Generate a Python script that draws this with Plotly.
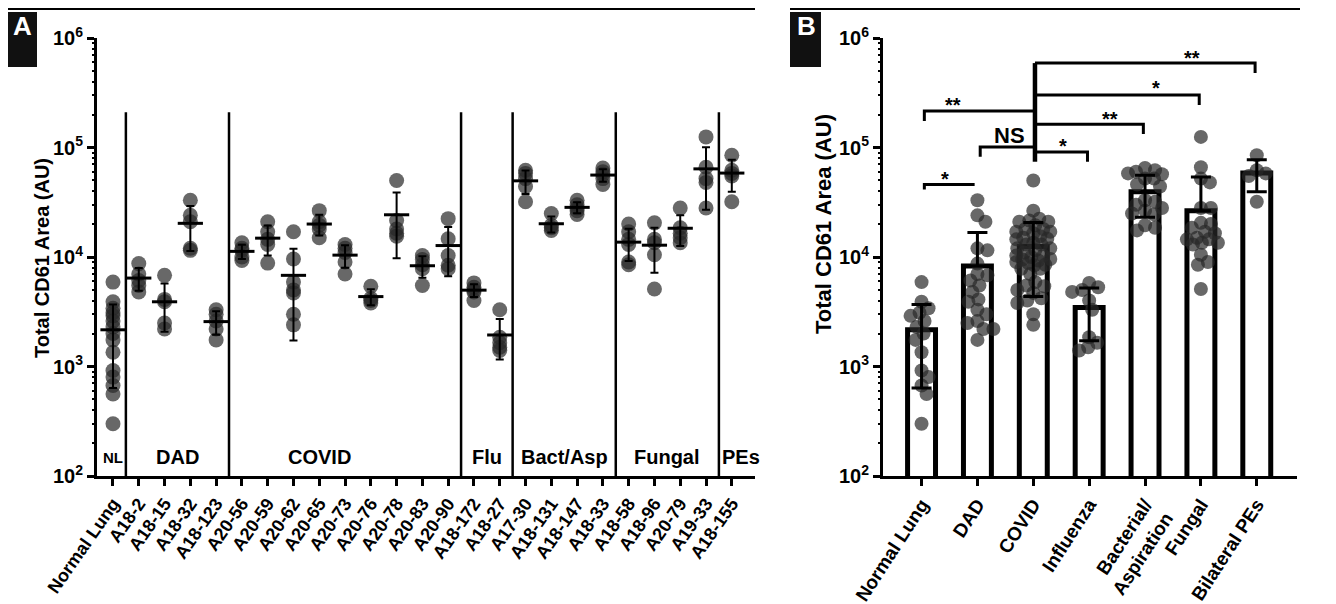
import numpy as np
import plotly.graph_objects as go

# ---------------- data ----------------
samples = ["Normal Lung", "A18-2", "A18-15", "A18-32", "A18-123",
           "A20-56", "A20-59", "A20-62", "A20-65", "A20-73", "A20-76", "A20-78", "A20-83", "A20-90",
           "A18-172", "A18-27",
           "A17-30", "A18-131", "A18-147", "A18-33",
           "A18-58", "A18-96", "A20-79", "A19-33",
           "A18-155"]

nl = [5900, 3900, 3400, 3100, 2900, 2600, 2300, 2000, 1750, 1350, 920, 800, 670, 560, 300]
a18_2 = [8700, 7000, 6100, 5500, 4800]
a18_15 = [6800, 4100, 3900, 2500, 2200]
a18_32 = [33000, 24000, 21000, 12000, 11500]
a18_123 = [3300, 3000, 2600, 2200, 1750]
a20_56 = [13500, 12000, 11500, 10000, 9300]
a20_59 = [21000, 17000, 14500, 13000, 8800]
a20_62 = [17000, 9600, 5900, 5000, 4700, 3000, 2400]
a20_65 = [26500, 21000, 19500, 18000, 15000]
a20_73 = [13000, 12000, 11000, 9000, 7000]
a20_76 = [5400, 4200, 4000, 3800]
a20_78 = [50000, 21500, 18000, 16500, 15500]
a20_83 = [10300, 9500, 8500, 7800, 5500]
a20_90 = [22400, 14700, 10300, 8400, 7800]
a18_172 = [5800, 5300, 5000, 4800, 4000]
a18_27 = [3300, 1850, 1650, 1500, 1400]
a17_30 = [62000, 58000, 52000, 44000, 32000]
a18_131 = [25000, 19500, 18500, 17500]
a18_147 = [33000, 30000, 28000, 26500, 24500]
a18_33 = [65000, 60000, 57000, 52000, 46000]
a18_58 = [20000, 17000, 14500, 13000, 9000, 8500]
a18_96 = [20500, 14500, 13500, 10500, 5100]
a20_79 = [28000, 18500, 16500, 15000, 13500]
a19_33 = [125000, 66000, 52000, 48000, 28000]
a18_155 = [85000, 62000, 58000, 55000, 32000]

sample_values = [nl, a18_2, a18_15, a18_32, a18_123,
                 a20_56, a20_59, a20_62, a20_65, a20_73, a20_76, a20_78, a20_83, a20_90,
                 a18_172, a18_27,
                 a17_30, a18_131, a18_147, a18_33,
                 a18_58, a18_96, a20_79, a19_33,
                 a18_155]

group_short = ["NL", "DAD", "COVID", "Flu", "Bact/Asp", "Fungal", "PEs"]
group_long = ["Normal Lung", "DAD", "COVID", "Influenza", "Bacterial/<br>Aspiration", "Fungal", "Bilateral PEs"]
group_sizes = [1, 4, 9, 2, 4, 4, 1]

# significance comparisons in panel B (group index pairs and labels)
sig_pairs = [(0, 1), (0, 2), (1, 2), (2, 3), (2, 4), (2, 5), (2, 6)]
sig_labels = ["*", "**", "NS", "*", "**", "*", "**"]
sig_levels = [46000, 215000, 101000, 91200, 163000, 301000, 590000]

# ---------------- layout helpers ----------------
W, H = 1336, 604
OFF = 8  # page body margin of the rendered html
FONT = "Liberation Sans, Arial, Helvetica, sans-serif"


def px(p):
    return (p - OFF) / W


def py(p):
    return 1 - (p - OFF) / H


A_X = (97, 755)
B_X = (883, 1297)
Y_PX = (38, 476)
A_RANGE = [-0.62, 24.9]
B_RANGE = [-0.69, 6.72]

DOT = dict(size=15, color="rgba(40,40,40,0.70)", line=dict(width=0))

fig = go.Figure()

# ---------------- Panel A ----------------
xa, ya = [], []
for i, vals in enumerate(sample_values):
    xa += [i] * len(vals)
    ya += list(vals)
fig.add_trace(go.Scatter(x=xa, y=ya, mode="markers", marker=DOT,
                         xaxis="x", yaxis="y", hoverinfo="skip"))

means_a = np.array([np.mean(v) for v in sample_values])
sds_a = np.array([np.std(v, ddof=1) for v in sample_values])
minus_a = np.where(means_a - sds_a > 0, sds_a, 0)
fig.add_trace(go.Scatter(
    x=list(range(len(samples))), y=means_a, mode="markers",
    marker=dict(symbol="line-ew", size=18, color="black", line=dict(width=3, color="black")),
    error_y=dict(type="data", array=sds_a, arrayminus=minus_a, thickness=2, width=4, color="black"),
    xaxis="x", yaxis="y", hoverinfo="skip"))

# group separators
bounds = np.cumsum(group_sizes)[:-1] - 0.5
sep_x, sep_y = [], []
for b in bounds:
    sep_x += [b, b, None]
    sep_y += [2.1e5, 1e2, None]
fig.add_trace(go.Scatter(x=sep_x, y=sep_y, mode="lines", line=dict(color="black", width=2.5),
                         xaxis="x", yaxis="y", hoverinfo="skip", cliponaxis=False))

# ---------------- Panel B ----------------
starts = np.concatenate([[0], np.cumsum(group_sizes)[:-1]])
group_vals = [sum(sample_values[s:s + n], []) for s, n in zip(starts, group_sizes)]
g_means = np.array([np.mean(v) for v in group_vals])
g_sds = np.array([np.std(v, ddof=1) for v in group_vals])
g_minus = np.where(g_means - g_sds > 0, g_sds, 0)

fig.add_trace(go.Bar(x=list(range(7)), y=g_means, width=0.5,
                     marker=dict(color="white", line=dict(color="black", width=5)),
                     xaxis="x2", yaxis="y2", hoverinfo="skip"))

# beeswarm offsets (pixel based)
xs_px = (B_X[1] - B_X[0]) / (B_RANGE[1] - B_RANGE[0])
ys_px = (Y_PX[1] - Y_PX[0]) / 4.0


def swarm(vals, mind=9.5, maxoff=17):
    vals = np.asarray(vals, float)
    order = np.argsort(-vals)
    placed = []
    offs = np.zeros(len(vals))
    cands = [0.0]
    for k in range(1, int(maxoff) + 1):
        cands += [k, -k]
    for i in order:
        yp = np.log10(vals[i]) * ys_px
        best, bestd, bestc = None, -1, 0.0
        for c in cands:
            d = min([np.hypot(c - p[0], yp - p[1]) for p in placed], default=1e9)
            if d >= mind:
                best = c
                break
            if d > bestd:
                bestd, bestc = d, c
        if best is None:
            best = bestc
        placed.append((best, yp))
        offs[i] = best
    return offs / xs_px


xb, yb = [], []
for g, vals in enumerate(group_vals):
    o = swarm(vals)
    xb += list(g + o)
    yb += list(vals)
fig.add_trace(go.Scatter(x=xb, y=yb, mode="markers", marker=dict(DOT, size=14),
                         xaxis="x2", yaxis="y2", hoverinfo="skip"))

fig.add_trace(go.Scatter(
    x=list(range(7)), y=g_means, mode="markers", marker=dict(size=1, color="rgba(0,0,0,0)"),
    error_y=dict(type="data", array=g_sds, arrayminus=g_minus, thickness=3, width=10, color="black"),
    xaxis="x2", yaxis="y2", hoverinfo="skip"))

# significance brackets
trunk = 2.03
leg = 1.23
bx, by = [], []
for (a, b), lev in zip(sig_pairs, sig_levels):
    if a == 2:  # branches leaving the COVID trunk to the right
        bx += [trunk, b - 0.03, b - 0.03, None]
        by += [lev, lev, lev / leg, None]
    else:
        xl = a + 0.05
        xr = trunk if b == 2 else b - 0.05
        bx += [xl, xl, xr, None]
        by += [lev / (leg if (a, b) != (0, 1) else 1.11), lev, lev, None]
fig.add_trace(go.Scatter(x=bx, y=by, mode="lines", line=dict(color="black", width=3),
                         xaxis="x2", yaxis="y2", hoverinfo="skip"))
fig.add_trace(go.Scatter(x=[trunk, trunk], y=[min(sig_levels[3:]) / leg, max(sig_levels)], mode="lines",
                         line=dict(color="black", width=4.5), xaxis="x2", yaxis="y2", hoverinfo="skip"))

label_x = [0.42, 0.56, 1.58, 2.53, 3.38, 4.2, 4.84]
label_y = [52000, 245000, 129000, 104000, 184000, 350000, 650000]

annotations = []
for lx, ly, t in zip(label_x, label_y, sig_labels):
    annotations.append(dict(x=lx, y=np.log10(ly), xref="x2", yref="y2", text=t, showarrow=False,
                            font=dict(family=FONT, size=22 if t == "NS" else 20,
                                      weight="bold", color="black"),
                            yanchor="middle", xanchor="center"))

# group labels in panel A
glabel_x = [0, 2.5, 8, 14.5, 17.5, 21.5, 24.35]
for gx, t in zip(glabel_x, group_short):
    annotations.append(dict(x=gx, y=np.log10(148), xref="x", yref="y", text=t, showarrow=False,
                            font=dict(family=FONT, size=15 if t == "NL" else 20, weight="bold", color="black"),
                            yanchor="middle", xanchor="center"))

# axis titles
annotations.append(dict(x=px(42), y=py(258), xref="paper", yref="paper", text="Total CD61 Area (AU)",
                        textangle=-90, showarrow=False, xanchor="center", yanchor="middle",
                        font=dict(family=FONT, size=20, weight="bold", color="black")))
annotations.append(dict(x=px(823), y=py(224), xref="paper", yref="paper", text="Total CD61 Area (AU)",
                        textangle=-90, showarrow=False, xanchor="center", yanchor="middle",
                        font=dict(family=FONT, size=22, weight="bold", color="black")))
# panel letters
for lx, t in [(22, "A"), (806, "B")]:
    annotations.append(dict(x=px(lx), y=py(26), xref="paper", yref="paper", text=t, showarrow=False,
                            xanchor="center", yanchor="middle",
                            font=dict(family=FONT, size=26, weight="bold", color="white")))

shapes = [
    dict(type="line", xref="paper", yref="paper", x0=px(0), x1=px(755), y0=py(9), y1=py(9),
         line=dict(color="black", width=2)),
    dict(type="line", xref="paper", yref="paper", x0=px(790), x1=px(1300), y0=py(9), y1=py(9),
         line=dict(color="black", width=2)),
    dict(type="rect", xref="paper", yref="paper", x0=px(7), x1=px(37), y0=py(67), y1=py(12),
         fillcolor="#111", line=dict(width=0)),
    dict(type="rect", xref="paper", yref="paper", x0=px(790), x1=px(821), y0=py(67), y1=py(12),
         fillcolor="#111", line=dict(width=0)),
]

decades = [1e2, 1e3, 1e4, 1e5, 1e6]
dec_text = ["10<sup>%d</sup>" % k for k in range(2, 7)]
minor_vals = [m * 10 ** k for k in range(2, 6) for m in range(2, 10)]


def yaxis(anchor):
    return dict(type="log", range=[2, 6], domain=[py(Y_PX[1]), py(Y_PX[0])], anchor=anchor,
                showline=True, linecolor="black", linewidth=3, mirror=False, automargin=False,
                ticks="outside", ticklen=7, tickwidth=2.5, tickcolor="black",
                tickvals=decades, ticktext=dec_text,
                tickfont=dict(family=FONT, size=20, weight="bold", color="black"),
                showgrid=False, zeroline=False, fixedrange=True)


def minor_axis(anchor, over):
    return dict(type="log", range=[2, 6], domain=[py(Y_PX[1]), py(Y_PX[0])], anchor=anchor,
                overlaying=over, showline=False, automargin=False,
                ticks="outside", ticklen=4, tickwidth=2, tickcolor="black",
                tickvals=minor_vals, showticklabels=False,
                showgrid=False, zeroline=False, fixedrange=True)


# invisible traces that bind the minor-tick axes
fig.add_trace(go.Scatter(x=[None], y=[None], xaxis="x", yaxis="y3", showlegend=False, hoverinfo="skip"))
fig.add_trace(go.Scatter(x=[None], y=[None], xaxis="x2", yaxis="y4", showlegend=False, hoverinfo="skip"))

fig.update_layout(
    width=W, height=H, margin=dict(l=0, r=0, t=0, b=0, autoexpand=False),
    paper_bgcolor="white", plot_bgcolor="white", showlegend=False,
    xaxis=dict(domain=[px(A_X[0]), px(A_X[1])], range=A_RANGE, anchor="y", automargin=False,
               tickvals=list(range(len(samples))), ticktext=samples, tickangle=-55,
               showline=True, linecolor="black", linewidth=3, ticks="outside", ticklen=7,
               tickwidth=2.5, tickcolor="black", showgrid=False, zeroline=False, fixedrange=True,
               tickfont=dict(family=FONT, size=18, weight="bold", color="black")),
    yaxis=yaxis("x"),
    yaxis3=minor_axis("x", "y"),
    xaxis2=dict(domain=[px(B_X[0]), px(B_X[1])], range=B_RANGE, anchor="y2", automargin=False,
                tickvals=list(range(7)), ticktext=group_long, tickangle=-57,
                showline=True, linecolor="black", linewidth=3, ticks="outside", ticklen=7,
                tickwidth=2.5, tickcolor="black", showgrid=False, zeroline=False, fixedrange=True,
                tickfont=dict(family=FONT, size=19, weight="bold", color="black")),
    yaxis2=yaxis("x2"),
    yaxis4=minor_axis("x2", "y2"),
    annotations=annotations, shapes=shapes,
)

fig.write_html("out.html")
